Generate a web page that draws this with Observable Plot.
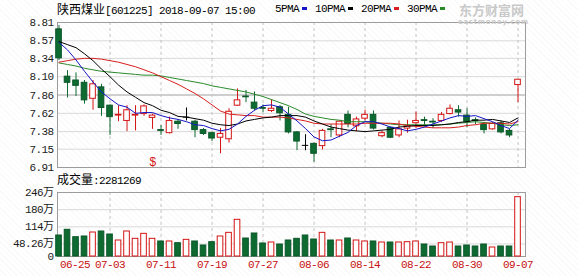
<!DOCTYPE html>
<html><head><meta charset="utf-8">
<script src="https://cdn.jsdelivr.net/npm/d3@7"></script>
<script src="https://cdn.jsdelivr.net/npm/@observablehq/plot@0.6"></script>
<style>
html,body{margin:0;padding:0;background:#fff;}
#wrap{position:relative;width:578px;height:276px;overflow:hidden;
 background:repeating-linear-gradient(45deg, rgba(0,0,0,0.022) 0 1px, transparent 1px 4px);}
.t{position:absolute;white-space:nowrap;font-family:"Liberation Mono","Noto Sans CJK SC",monospace;font-size:11px;letter-spacing:-0.6px;color:#000;line-height:14px;}
.cjk{font-family:"Noto Sans CJK SC",sans-serif;font-size:12px;letter-spacing:0;}
.sq{display:inline-block;width:5px;height:3px;margin:0 8px 2px 3px;vertical-align:middle;}
.wm{position:absolute;color:#c9c9c9;white-space:nowrap;}
.svgbox{position:absolute;left:0;}
</style></head><body><div id="wrap"></div>
<script>
// ---- data ----
const stockName = "陕西煤业";
const stockCode = "[601225]";
const stamp = "2018-09-07 15:00";
const dates = ["06-25","06-26","06-27","06-28","06-29","07-02","07-03","07-04","07-05","07-06",
"07-09","07-10","07-11","07-12","07-13","07-16","07-17","07-18","07-19","07-20",
"07-23","07-24","07-25","07-26","07-27","07-30","07-31","08-01","08-02","08-03",
"08-06","08-07","08-08","08-09","08-10","08-13","08-14","08-15","08-16","08-17",
"08-20","08-21","08-22","08-23","08-24","08-27","08-28","08-29","08-30","08-31",
"09-03","09-04","09-05","09-06","09-07"];
const open = [8.72,8.10,8.05,8.02,7.81,7.96,7.72,7.59,7.52,7.59,
7.61,7.56,7.40,7.36,7.51,7.57,7.51,7.40,7.36,7.30,
7.28,7.72,7.84,7.76,7.69,7.65,7.70,7.60,7.37,7.20,
7.22,7.19,7.41,7.33,7.60,7.45,7.55,7.60,7.32,7.43,
7.33,7.42,7.49,7.53,7.51,7.52,7.61,7.66,7.59,7.53,
7.47,7.41,7.49,7.39,7.99];
const close = [8.34,8.02,7.98,7.79,8.00,7.69,7.57,7.60,7.66,7.60,
7.71,7.59,7.39,7.52,7.48,7.57,7.40,7.35,7.29,7.35,
7.64,7.79,7.83,7.68,7.68,7.68,7.62,7.37,7.25,7.20,
7.09,7.39,7.40,7.51,7.48,7.54,7.60,7.42,7.36,7.30,
7.41,7.45,7.52,7.52,7.50,7.60,7.68,7.63,7.51,7.52,
7.40,7.48,7.37,7.33,8.06];
const high = [8.77,8.18,8.15,8.05,8.05,8.00,7.73,7.72,7.72,7.72,
7.73,7.61,7.46,7.57,7.53,7.69,7.53,7.42,7.37,7.42,
7.68,7.94,7.92,7.90,7.73,7.80,7.72,7.70,7.38,7.34,
7.23,7.41,7.47,7.52,7.65,7.57,7.66,7.65,7.39,7.44,
7.52,7.53,7.64,7.57,7.55,7.63,7.73,7.72,7.68,7.56,
7.50,7.50,7.52,7.41,8.06];
const low = [8.31,7.82,7.84,7.74,7.66,7.58,7.33,7.51,7.38,7.39,
7.58,7.41,7.33,7.35,7.41,7.52,7.30,7.33,7.25,7.09,
7.23,7.71,7.76,7.65,7.63,7.63,7.52,7.35,7.13,7.13,
6.98,7.14,7.30,7.30,7.43,7.38,7.52,7.40,7.30,7.29,
7.30,7.36,7.42,7.44,7.42,7.50,7.60,7.57,7.43,7.47,
7.35,7.40,7.35,7.30,7.76];
// volume, 万股
const volume = [80.7,102.6,74.2,76.9,92.2,96.1,84.6,61.5,96.1,67.9,
87.1,67.9,57.7,57.7,51.2,64.0,57.7,42.3,55.1,76.9,
90.9,141.0,69.2,88.4,50.0,53.8,46.1,61.5,67.9,80.7,
65.3,90.9,61.5,61.5,69.2,61.5,57.7,57.7,53.8,53.8,
53.8,55.1,57.7,46.1,38.4,51.2,53.8,38.4,42.3,38.4,
46.1,34.6,38.4,38.4,228.1269];
const lastVolume = "2281269";
const ma5 = [8.55,8.45,8.32,8.17,8.03,7.90,7.81,7.73,7.70,7.62,
7.63,7.63,7.59,7.56,7.54,7.51,7.47,7.46,7.42,7.39,
7.41,7.48,7.58,7.66,7.72,7.73,7.70,7.61,7.52,7.42,
7.31,7.26,7.27,7.32,7.37,7.46,7.51,7.51,7.48,7.44,
7.42,7.39,7.41,7.44,7.48,7.52,7.56,7.59,7.58,7.59,
7.55,7.51,7.46,7.42,7.53];
const ma10 = [8.56,8.52,8.48,8.40,8.31,8.20,8.10,7.99,7.90,7.83,
7.76,7.72,7.66,7.63,7.58,7.57,7.55,7.53,7.49,7.47,
7.46,7.48,7.52,7.54,7.56,7.57,7.59,7.59,7.59,7.57,
7.52,7.48,7.44,7.42,7.40,7.39,7.38,7.39,7.40,7.41,
7.44,7.45,7.46,7.46,7.46,7.47,7.48,7.50,7.51,7.53,
7.53,7.54,7.52,7.50,7.56];
const ma20 = [8.29,8.31,8.33,8.34,8.34,8.33,8.31,8.29,8.26,8.23,
8.19,8.15,8.10,8.05,8.00,7.94,7.88,7.81,7.73,7.65,
7.61,7.60,7.59,7.59,7.57,7.57,7.57,7.56,7.54,7.52,
7.49,7.48,7.48,7.48,7.48,7.48,7.49,7.49,7.49,7.49,
7.48,7.46,7.45,7.44,7.43,7.43,7.43,7.44,7.46,7.47,
7.49,7.49,7.49,7.48,7.51];
const ma30 = [8.28,8.26,8.24,8.21,8.19,8.17,8.16,8.15,8.14,8.13,
8.12,8.12,8.11,8.09,8.07,8.05,8.03,8.01,7.98,7.96,
7.94,7.92,7.90,7.87,7.84,7.80,7.76,7.72,7.67,7.61,
7.58,7.56,7.54,7.53,7.51,7.51,7.51,7.50,7.49,7.48,
7.47,7.47,7.47,7.47,7.47,7.47,7.48,7.49,7.50,7.51,
7.50,7.49,7.47,7.46,7.47];
const maNames = ["5PMA","10PMA","20PMA","30PMA"];
const maColors = ["#1414c8","#000000","#d81e1e","#2a8a2a"];
const priceTicks = [6.91,7.15,7.38,7.62,7.86,8.10,8.34,8.57,8.81];
const volTicks = [0,48.26,114,180,246];
const volTickLabels = ["0","48.26万","114万","180万","246万"];
const xLabelDates = ["06-25","07-03","07-11","07-19","07-27","08-06","08-14","08-22","08-30","09-07"];
const events = [{date:"07-10", label:"$"}];
const watermark = ["东方财富网","eastmoney.com"];

// ---- build ----
const UP = "#d41414", DOWN = "#0d6b31", DOWNS = "#0a5628", FLAT = "#000";
const rows = dates.map((d,i)=>({i, date:d, open:open[i], close:close[i], high:high[i], low:low[i], vol:volume[i],
  ma5:ma5[i], ma10:ma10[i], ma20:ma20[i], ma30:ma30[i]}));
rows.forEach((r,i)=>{
  r.dir = r.close>r.open ? 1 : r.close<r.open ? -1 : 0;
  r.vdir = r.dir !== 0 ? r.dir : (i>0 && r.close>=rows[i-1].close ? 1 : -1);
});
const col = d => d.dir>0 ? UP : d.dir<0 ? DOWN : FLAT;
const labelIdx = xLabelDates.map(d=>dates.indexOf(d));
const gridIdx = labelIdx.filter(i=>i>0);
const evRows = events.map(e=>({i:dates.indexOf(e.date), label:e.label}));
const xDom = [-0.18, 54.88];
const W = 0.33;
const fontStyle = {background:"transparent", fontFamily:"'Liberation Mono','Noto Sans CJK SC',monospace",
  fontSize:"11px", letterSpacing:"-0.6px", color:"#1a1a1a", overflow:"visible"};

const price = Plot.plot({
  width:578, height:170, marginLeft:57, marginRight:53, marginTop:22, marginBottom:3,
  style:fontStyle,
  color:{type:"identity"},
  x:{domain:xDom, axis:null},
  y:{domain:[6.91,8.81], axis:null},
  marks:[
    Plot.ruleY(priceTicks.filter(v=>v!==7.86), {stroke:"#d9d9d9"}),
    Plot.ruleY([7.86], {stroke:"#a0a0a0"}),
    Plot.ruleX(gridIdx, {stroke:"#c4c4c4", strokeDasharray:"3,3"}),
    Plot.frame({stroke:"#9c9c9c"}),
    Plot.axisY({ticks:priceTicks, tickFormat:d=>d.toFixed(2), tickSize:0, tickPadding:4, fill:"#1a1a1a", label:null}),
    Plot.ruleX(rows, {x:"i", y1:"low", y2:"high", stroke:col}),
    Plot.rect(rows.filter(d=>d.dir!==0), {x1:d=>d.i-W, x2:d=>d.i+W, y1:"open", y2:"close",
      fill:d=>d.dir>0?"#ffffff":DOWN, stroke:d=>d.dir>0?UP:DOWNS, strokeWidth:1}),
    Plot.ruleY(rows.filter(d=>d.dir===0), {y:"close", x1:d=>d.i-W-0.05, x2:d=>d.i+W+0.05, stroke:FLAT}),
    Plot.line(rows, {x:"i", y:"ma30", stroke:maColors[3], strokeWidth:1}),
    Plot.line(rows, {x:"i", y:"ma20", stroke:maColors[2], strokeWidth:1}),
    Plot.line(rows, {x:"i", y:"ma10", stroke:maColors[1], strokeWidth:1}),
    Plot.line(rows, {x:"i", y:"ma5", stroke:maColors[0], strokeWidth:1}),
    Plot.text(evRows, {x:"i", text:"label", frameAnchor:"bottom", dy:-2, lineAnchor:"bottom", fill:UP, fontSize:12})
  ]
});

const vol = Plot.plot({
  width:578, height:91, marginLeft:57, marginRight:53, marginTop:7, marginBottom:20,
  style:fontStyle,
  color:{type:"identity"},
  x:{domain:xDom, axis:null, label:null},
  y:{domain:[0,246], axis:null, label:null},
  marks:[
    Plot.ruleY(volTicks.slice(1,4), {stroke:"#d9d9d9"}),
    Plot.ruleX(gridIdx, {stroke:"#c4c4c4", strokeDasharray:"3,3"}),
    Plot.frame({stroke:"#9c9c9c"}),
    Plot.axisY({ticks:volTicks, tickFormat:d=>volTickLabels[volTicks.indexOf(d)], tickSize:0, tickPadding:4, fill:"#1a1a1a", label:null}),
    Plot.rect(rows, {x1:d=>d.i-W, x2:d=>d.i+W, y1:0, y2:"vol",
      fill:d=>d.vdir>0?"#ffffff":DOWN, stroke:d=>d.vdir>0?UP:DOWNS, strokeWidth:1}),
    Plot.text(labelIdx.slice(0,1), {x:d=>d, text:d=>dates[d], frameAnchor:"bottom", dy:11, dx:1, textAnchor:"start", fill:"#c81010"}),
    Plot.text(labelIdx.slice(1), {x:d=>d, text:d=>dates[d], frameAnchor:"bottom", dy:11, fill:"#c81010"})
  ]
});

const wrap = document.getElementById("wrap");
const b1 = document.createElement("div"); b1.className="svgbox"; b1.style.top="0px"; b1.appendChild(price); wrap.appendChild(b1);
const b2 = document.createElement("div"); b2.className="svgbox"; b2.style.top="185px"; b2.appendChild(vol); wrap.appendChild(b2);

function addDiv(html, left, top, cls){ const d=document.createElement("div"); d.className=cls||"t"; d.style.left=left+"px"; d.style.top=top+"px"; d.innerHTML=html; wrap.appendChild(d); return d; }
addDiv(`<span class="cjk">${stockName}</span>${stockCode} ${stamp}`, 57, 2);
addDiv(maNames.map((n,k)=>`${n}<span class="sq" style="background:${maColors[k]}"></span>`).join(""), 275, 2);
addDiv(`<span class="cjk">成交量</span>:${lastVolume}`, 57, 172);
const w1 = addDiv(watermark[0], 459, 3, "wm"); w1.style.font="bold 13px/13px 'Noto Sans CJK SC',sans-serif";
const w2 = addDiv(watermark[1], 458, 19, "wm"); w2.style.font="bold 7px/7px 'DejaVu Sans',sans-serif"; w2.style.letterSpacing="0.7px";
</script></body></html>
